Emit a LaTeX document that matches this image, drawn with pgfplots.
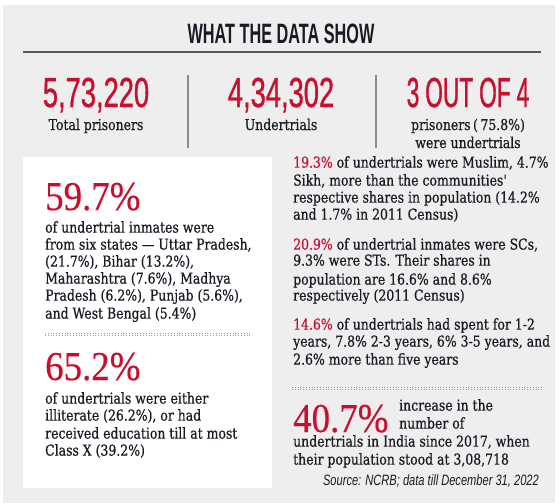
\documentclass[border=0pt]{standalone}
\usepackage{pgfplots}
\pgfplotsset{compat=1.18}
\usepackage{fontspec}
\setmainfont{DejaVu Serif}
\newfontfamily\bodyfont[FakeStretch=0.83,FakeBold=0.6]{DejaVu Serif}
\newfontfamily\bigpct[FakeStretch=0.9,FakeBold=0.4]{Liberation Serif}
\newfontfamily\titlefont[FakeStretch=0.58]{Liberation Sans}
\newfontfamily\numfont[FakeStretch=0.65,FakeBold=0.8]{Liberation Sans}
\newfontfamily\numfontb[FakeStretch=0.54,FakeBold=0.8]{Liberation Sans}
\newfontfamily\srcfont[FakeStretch=0.74]{Liberation Sans}
\definecolor{iered}{HTML}{C8102E}
\definecolor{ink}{HTML}{1A1A24}
\definecolor{panel}{HTML}{EEEEEE}
\newcommand\body{\bodyfont\fontsize{15}{17}\selectfont}
\newcommand\rd[1]{\textcolor{iered}{#1}}
\newcommand\txtline[3]{\node[anchor=mid west,inner sep=0pt,font=\body,text=ink,text height=10pt,text depth=3pt] at (axis cs:#1,#2) {#3};}
\begin{document}
\begin{tikzpicture}
\begin{axis}[
  width=559pt, height=503pt, scale only axis,
  xmin=0, xmax=559, ymin=0, ymax=503, y dir=reverse,
  hide axis, clip=false]
% backgrounds
\fill[white] (axis cs:0,0) rectangle (axis cs:559,503);
\fill[panel] (axis cs:3,5) rectangle (axis cs:555,503);
\fill[black!8] (axis cs:24,158) rectangle (axis cs:273,489);
\fill[white] (axis cs:23,157) rectangle (axis cs:272,488);
% title and rule
\node[anchor=base,inner sep=0pt,text=ink,font=\titlefont\bfseries\fontsize{28}{30}\selectfont] at (axis cs:281,44) {WHAT THE DATA SHOW};
\draw[black!65,line width=1.5pt] (axis cs:23,52) -- (axis cs:541,52);
% separators
\draw[black!45,line width=1.2pt] (axis cs:188,75) -- (axis cs:188,148);
\draw[black!45,line width=1.2pt] (axis cs:376,75) -- (axis cs:376,148);
% headline numbers
\node[anchor=base,inner sep=0pt,text=iered,font=\numfont\fontsize{42}{44}\selectfont] at (axis cs:96,107) {5,73,220};
\node[anchor=base,inner sep=0pt,text=iered,font=\numfont\fontsize{42}{44}\selectfont] at (axis cs:281,107) {4,34,302};
\node[anchor=base,inner sep=0pt,text=iered,font=\numfontb\fontsize{42}{44}\selectfont] at (axis cs:468,107) {3\hspace{6pt}OUT\hspace{6pt}OF\hspace{6pt}4};
\node[anchor=base,inner sep=0pt,text=ink,font=\body] at (axis cs:96,130) {Total prisoners};
\node[anchor=base,inner sep=0pt,text=ink,font=\body] at (axis cs:281,130) {Undertrials};
\node[anchor=base,inner sep=0pt,text=ink,font=\body,text depth=2pt] at (axis cs:468,130) {prisoners\,(\,75.8\%)};
\node[anchor=base,inner sep=0pt,text=ink,font=\body,text height=10pt] at (axis cs:468,148) {were undertrials};
% left box
\node[anchor=base west,inner sep=0pt,text=iered,font=\bigpct\fontsize{41}{43}\selectfont,text depth=0pt] at (axis cs:45,210) {59.7\%};
\txtline{45}{230}{of undertrial inmates were}
\txtline{45}{247}{from six states — Uttar Pradesh,}
\txtline{45}{264}{(21.7\%), Bihar (13.2\%),}
\txtline{45}{281}{Maharashtra (7.6\%), Madhya}
\txtline{45}{298}{Pradesh (6.2\%), Punjab (5.6\%),}
\txtline{45}{316}{and West Bengal (5.4\%)}
\draw[black!40,dotted,line width=0.8pt] (axis cs:45,333) -- (axis cs:252,333);
\draw[black!40,dotted,line width=0.8pt] (axis cs:45,335) -- (axis cs:252,335);
\node[anchor=base west,inner sep=0pt,text=iered,font=\bigpct\fontsize{41}{43}\selectfont,text depth=0pt] at (axis cs:45,380) {65.2\%};
\txtline{45}{401}{of undertrials were either}
\txtline{45}{418}{illiterate (26.2\%), or had}
\txtline{45}{436}{received education till at most}
\txtline{45}{453}{Class X (39.2\%)}
% right column
\txtline{293}{165}{\rd{19.3\%} of undertrials were Muslim, 4.7\%}
\txtline{293}{183}{Sikh, more than the communities'}
\txtline{293}{200}{respective shares in population (14.2\%}
\txtline{293}{217}{and 1.7\% in 2011 Census)}
\txtline{293}{247}{\rd{20.9\%} of undertrial inmates were SCs,}
\txtline{293}{263}{9.3\% were STs. Their shares in}
\txtline{293}{282}{population are 16.6\% and 8.6\%}
\txtline{293}{298}{respectively (2011 Census)}
\txtline{293}{327}{\rd{14.6\%} of undertrials had spent for 1-2}
\txtline{293}{344}{years, 7.8\% 2-3 years, 6\% 3-5 years, and}
\txtline{293}{362}{2.6\% more than five years}
\draw[black!40,dotted,line width=0.8pt] (axis cs:292,387) -- (axis cs:542,387);
\draw[black!40,dotted,line width=0.8pt] (axis cs:292,389) -- (axis cs:542,389);
\node[anchor=base west,inner sep=0pt,text=iered,font=\bigpct\fontsize{41}{43}\selectfont,text depth=0pt] at (axis cs:293,432) {40.7\%};
\txtline{399}{408}{increase in the}
\txtline{399}{426}{number of}
\txtline{293}{444}{undertrials in India since 2017, when}
\txtline{293}{462}{their population stood at 3,08,718}
\node[anchor=mid east,inner sep=0pt,text=ink,font=\srcfont\itshape\fontsize{15}{17}\selectfont] at (axis cs:539,483) {Source: NCRB; data till December 31, 2022};
\end{axis}
\end{tikzpicture}
\end{document}
